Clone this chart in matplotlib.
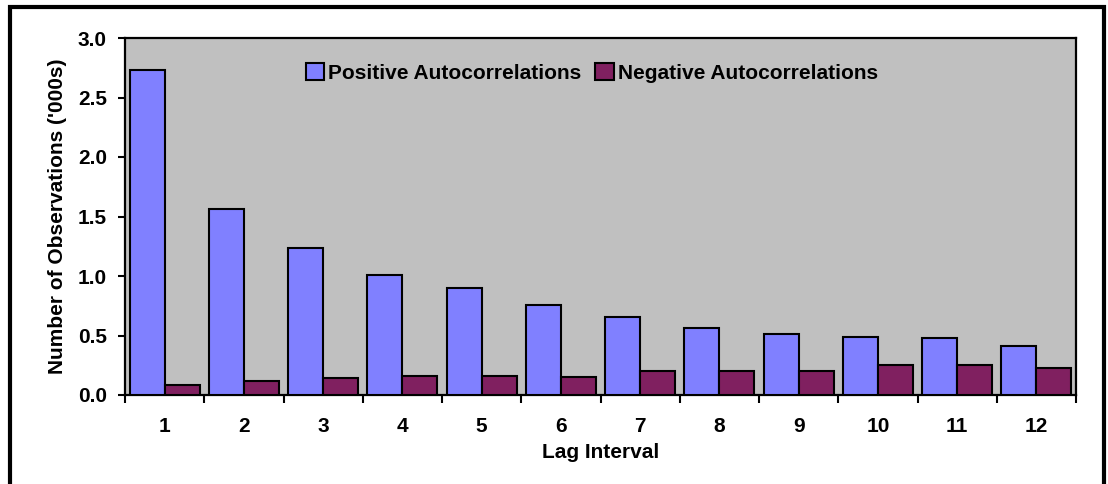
import matplotlib
matplotlib.use("Agg")
import matplotlib.pyplot as plt
import numpy as np
from matplotlib.patches import Rectangle

lags = [1, 2, 3, 4, 5, 6, 7, 8, 9, 10, 11, 12]
positive = [2.73, 1.56, 1.235, 1.005, 0.897, 0.756, 0.657, 0.56, 0.515, 0.487, 0.48, 0.41]
negative = [0.083, 0.12, 0.143, 0.16, 0.162, 0.15, 0.203, 0.199, 0.2, 0.25, 0.25, 0.227]
y_ticks = [0.0, 0.5, 1.0, 1.5, 2.0, 2.5, 3.0]

plt.rcParams['font.family'] = ['Liberation Sans', 'DejaVu Sans']
plt.rcParams['font.weight'] = 'bold'
FS = 15

W, H = 1108, 484
fig = plt.figure(figsize=(W / 100, H / 100), dpi=100)
fig.patch.set_facecolor('white')

ax = fig.add_axes([125 / W, 1 - 395 / H, (1076 - 125) / W, (395 - 38) / H])
ax.set_facecolor('#C0C0C0')

x = np.arange(len(lags))
bw = 0.442
ax.bar(x - bw / 2, positive, bw, color='#8080FF', edgecolor='black', linewidth=1.5,
       label='Positive Autocorrelations', zorder=3)
ax.bar(x + bw / 2, negative, bw, color='#802060', edgecolor='black', linewidth=1.5,
       label='Negative Autocorrelations', zorder=3)

ax.set_xlim(-0.5, len(lags) - 0.5)
ax.set_ylim(0, 3.0)
ax.set_yticks(y_ticks)
ax.set_yticklabels([f"{v:.1f}" for v in y_ticks], fontsize=FS, fontweight='bold')
ax.set_xticks(x)
ax.set_xticklabels([str(v) for v in lags], fontsize=FS, fontweight='bold')
ax.tick_params(axis='x', length=0, pad=16)
ax.set_xticks(np.arange(-0.5, len(lags), 1.0), minor=True)
ax.tick_params(axis='x', which='minor', length=6, width=1.5, direction='out')
ax.tick_params(axis='y', length=5, width=1.5, direction='out', pad=8)

for s in ax.spines.values():
    s.set_linewidth(1.6)
    s.set_color('black')

ax.set_ylabel("Number of Observations ('000s)", fontsize=FS, fontweight='bold', labelpad=8)
ax.set_xlabel("Lag Interval", fontsize=FS, fontweight='bold', labelpad=5)

leg = ax.legend(loc='center', bbox_to_anchor=(0.491, 0.902), ncol=2, frameon=False,
                prop={'size': FS, 'weight': 'bold'}, handlelength=0.9, handleheight=0.9,
                handletextpad=0.2, columnspacing=0.65, borderaxespad=0, borderpad=0)

# outer chart frame (bottom edge runs past the canvas)
fig.patches.append(Rectangle((9.5 / W, -0.05), (1104 - 9.5) / W, 1.05 - 7 / H,
                             transform=fig.transFigure, fill=False,
                             edgecolor='black', linewidth=3.0, zorder=10))

fig.savefig('out.png', dpi=100, facecolor='white')
